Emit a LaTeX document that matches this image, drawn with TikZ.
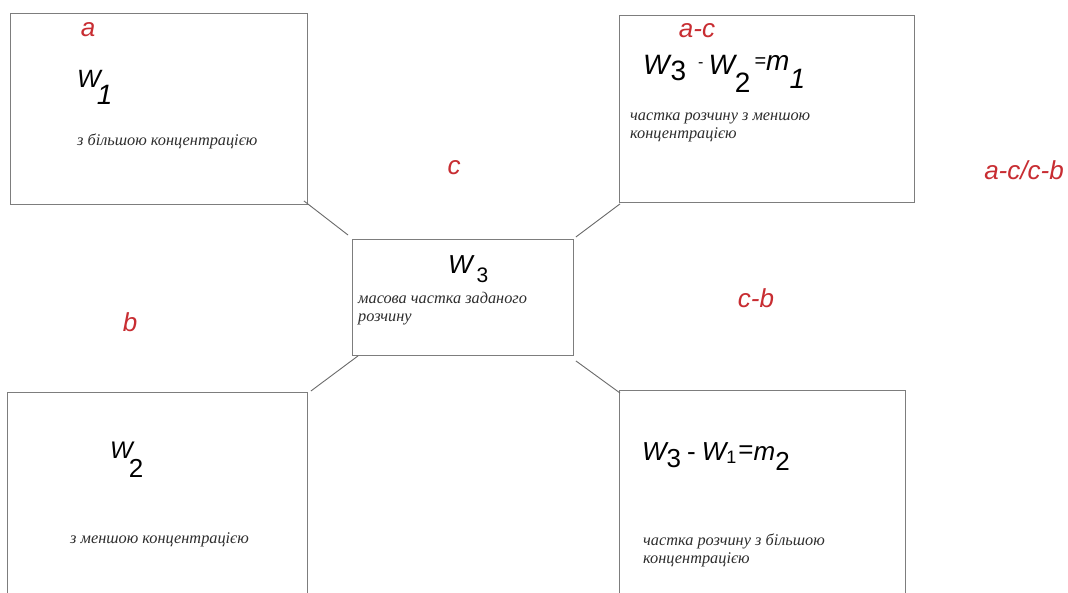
\documentclass[tikz,border=0pt]{standalone}
\usepackage{fontspec}
\setmainfont{Liberation Sans}
\newfontfamily\tnr{Liberation Serif}
\definecolor{lbl}{RGB}{200,45,50}
\definecolor{edge}{RGB}{125,125,125}
\definecolor{ink}{RGB}{45,45,45}
% sizes used in the formulas
\newcommand{\fs}[1]{\fontsize{#1}{#1}\selectfont}
\begin{document}
\begin{tikzpicture}[x=1pt,y=-1pt,
  panel/.style={draw=edge,line width=0.9pt,anchor=north west,inner sep=0pt},
  link/.style={draw=edge!85!black,line width=0.9pt},
  tag/.style={text=lbl,font=\fs{26}\itshape,inner sep=0pt},
  note/.style={text=ink,font=\tnr\itshape\fontsize{16.3}{18}\selectfont,align=left,anchor=north west,inner sep=0pt},
  formula/.style={anchor=base west,inner sep=0pt}
]
\useasboundingbox (0,0) rectangle (1068,592);
\fill[white] (0,0) rectangle (1068,592);
\clip (0,0) rectangle (1068,592);

% five panels
\node[panel,minimum width=297pt,minimum height=191pt] (tl) at (10,13) {};
\node[panel,minimum width=295pt,minimum height=187pt] (tr) at (619,15) {};
\node[panel,minimum width=221pt,minimum height=116pt] (c) at (352,239) {};
\node[panel,minimum width=300pt,minimum height=230pt] (bl) at (7,392) {};
\node[panel,minimum width=286pt,minimum height=230pt] (br) at (619,390) {};

% connectors between the corners
\draw[link] ([shift={(-4,-4)}]tl.south east) -- ([shift={(-4,-4)}]c.north west);
\draw[link] ([shift={(1,1)}]tr.south west) -- ([shift={(2,-2)}]c.north east);
\draw[link] ([shift={(3,-1)}]bl.north east) -- ([shift={(6,0)}]c.south west);
\draw[link] ([shift={(2,5)}]c.south east) -- ([shift={(1,3)}]br.north west);

% red labels
\node[tag] (la) at (88,30) {a};
\node[tag] (lac) at (697,31) {a-c};
\node[tag] (lc) at (454,168) {c};
\node[tag] (lb) at (130,322) {b};
\node[tag] (lcb) at (756,298) {c-b};
\node[tag] (lratio) at (1024,170) {a-c/c-b};

% formulas
\node[formula] (f1) at (77,87) {\fs{25}\itshape W\kern-4pt\raisebox{-17pt}{\fs{28}1}};
\node[formula] (f2) at (110,458) {\fs{24}\itshape W\kern-4pt\raisebox{-19pt}{\fs{26}\upshape 2}};
\node[formula] (f3) at (448,273) {\fs{26}\itshape W\kern4pt\raisebox{-9pt}{\fs{21}\upshape 3}};
\node[formula] (f4) at (643,74) {\fs{28}\itshape W\kern1pt\raisebox{-6pt}{\upshape 3}\kern12pt\raisebox{7pt}{\fs{16}\upshape -}\kern5pt W\raisebox{-18pt}{\upshape 2}\kern4pt\raisebox{7pt}{\fs{20}\upshape =}\raisebox{4pt}{m}\raisebox{-14pt}{1}};
\node[formula] (f5) at (642,460) {\fs{26}\itshape W\raisebox{-7pt}{\upshape 3}\kern6pt{\upshape -}\kern6pt W\raisebox{-3pt}{\fs{18}\upshape 1}\kern2pt\raisebox{2pt}{\upshape =}m\raisebox{-10pt}{\upshape 2}};

% descriptions
\node[note] (n1) at (77,133) {\strut з більшою концентрацією};
\node[note] (n2) at (630,108) {\strut частка розчину з меншою\\концентрацією};
\node[note] (n3) at (358,291) {\strut масова частка заданого\\розчину};
\node[note] (n4) at (70,531) {\strut з меншою концентрацією};
\node[note] (n5) at (643,533) {\strut частка розчину з більшою\\концентрацією};
\end{tikzpicture}
\end{document}
